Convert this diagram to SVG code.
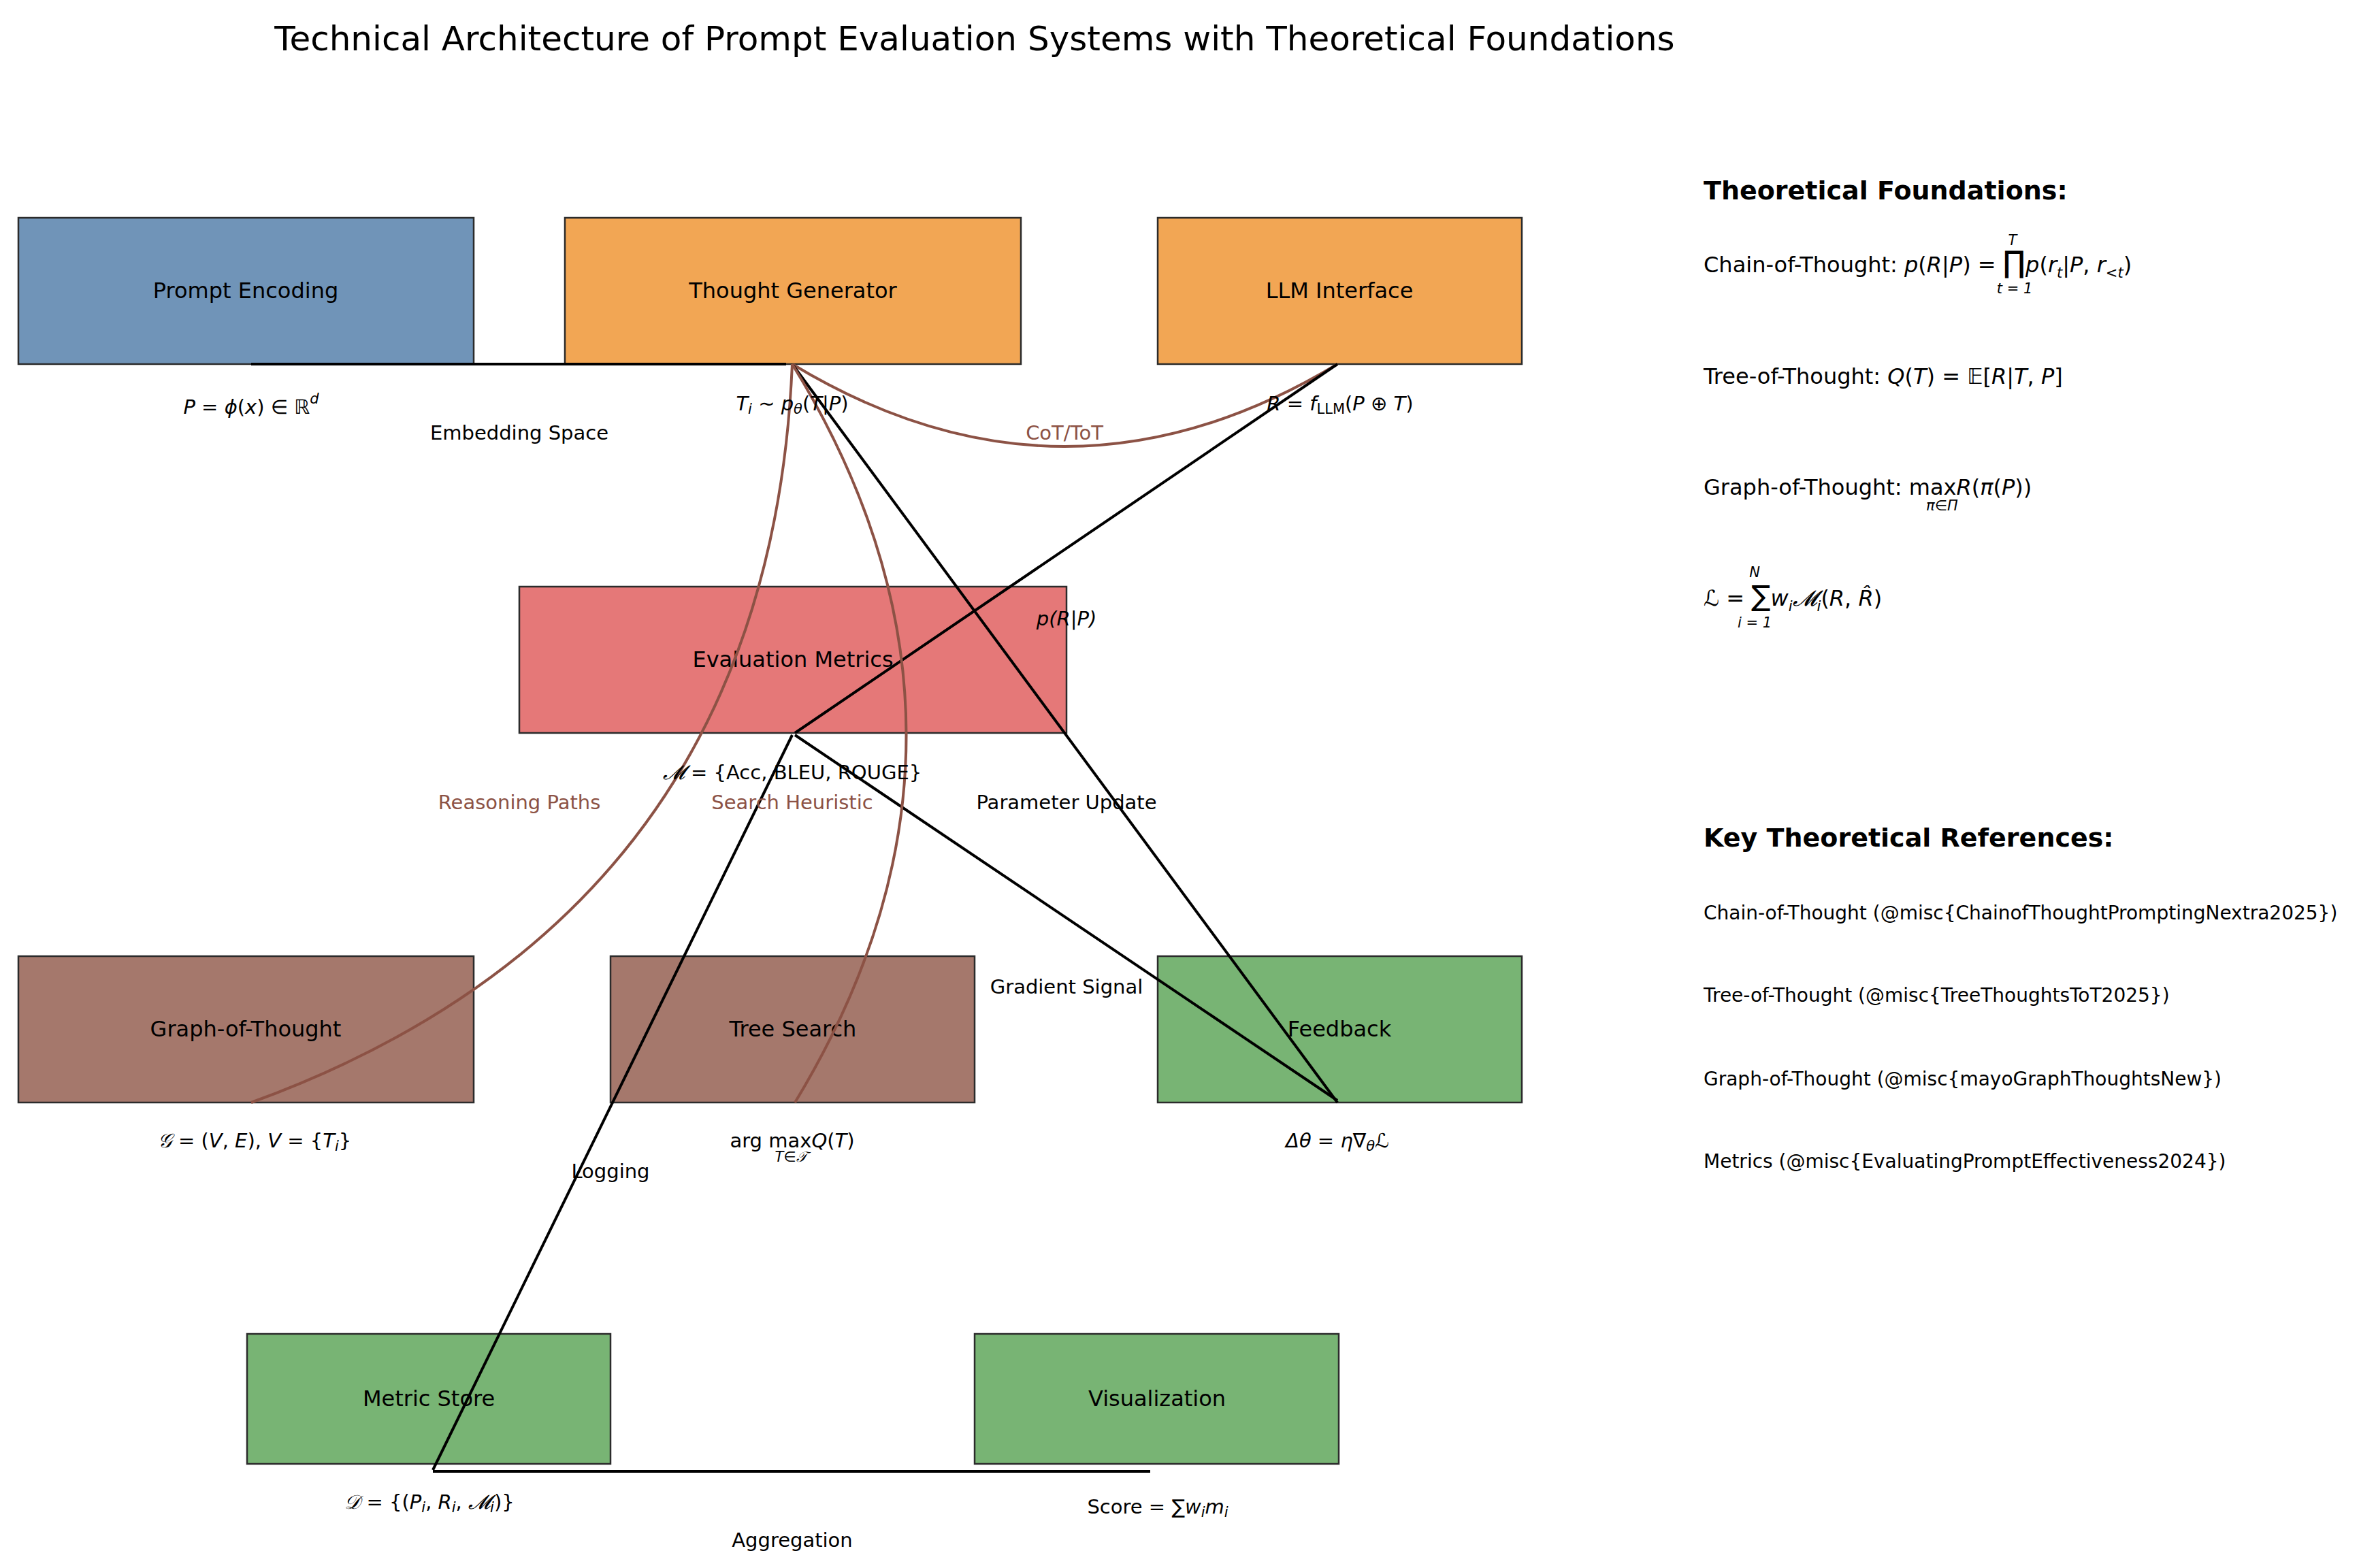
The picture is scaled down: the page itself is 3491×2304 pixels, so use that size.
<svg xmlns="http://www.w3.org/2000/svg" width="3491" height="2304" viewBox="0 0 3491 2304">
<style>
text{font-family:"DejaVu Sans","Liberation Sans",sans-serif;fill:#000}
.bx{stroke:#2b2b2b;stroke-width:2.5}
.nl{font-size:32px;text-anchor:middle;dominant-baseline:central}
.lb{font-size:29px;text-anchor:middle;dominant-baseline:central}
.br{fill:#8c5245}
.m{font-style:italic}
.sm{font-size:21px}
.e{stroke:#000;stroke-width:4;fill:none}
.c{stroke:#8c5245;stroke-width:4;fill:none}
.h{font-size:38px;font-weight:bold}
.f{font-size:32px}
.r{font-size:28px}
</style>
<rect width="3491" height="2304" fill="#fff"/>
<text x="1432" y="57" font-size="50" text-anchor="middle" dominant-baseline="central">Technical Architecture of Prompt Evaluation Systems with Theoretical Foundations</text>
<g id="n-prompt"><rect class="bx" x="27" y="320" width="669" height="215" fill="#7094b8"/><text class="nl" x="361" y="427">Prompt Encoding</text></g>
<g id="n-thought"><rect class="bx" x="830" y="320" width="670" height="215" fill="#f2a654"/><text class="nl" x="1165" y="427">Thought Generator</text></g>
<g id="n-llm"><rect class="bx" x="1701" y="320" width="535" height="215" fill="#f2a654"/><text class="nl" x="1968" y="427">LLM Interface</text></g>
<g id="n-eval"><rect class="bx" x="763" y="862" width="804" height="215" fill="#e57878"/><text class="nl" x="1165" y="969">Evaluation Metrics</text></g>
<g id="n-got"><rect class="bx" x="27" y="1405" width="669" height="215" fill="#a5786c"/><text class="nl" x="361" y="1512">Graph-of-Thought</text></g>
<g id="n-tree"><rect class="bx" x="897" y="1405" width="535" height="215" fill="#a5786c"/><text class="nl" x="1165" y="1512">Tree Search</text></g>
<g id="n-feedback"><rect class="bx" x="1701" y="1405" width="535" height="215" fill="#78b474"/><text class="nl" x="1968" y="1512">Feedback</text></g>
<g id="n-store"><rect class="bx" x="363" y="1960" width="534" height="191" fill="#78b474"/><text class="nl" x="630" y="2055">Metric Store</text></g>
<g id="n-vis"><rect class="bx" x="1432" y="1960" width="535" height="191" fill="#78b474"/><text class="nl" x="1700" y="2055">Visualization</text></g>
<g id="connectors">
<line class="e" x1="369" y1="535" x2="1155" y2="535" stroke-width="5"/>
<path class="c" d="M1164,535 Q1564,777 1965,535"/>
<line class="e" x1="1965" y1="535" x2="1168" y2="1077"/>
<line class="e" x1="1164" y1="535" x2="1965" y2="1620"/>
<line class="e" x1="1168" y1="1080" x2="1965" y2="1617"/>
<line class="e" x1="1164" y1="1080" x2="636" y2="2160"/>
<line class="e" x1="636" y1="2162" x2="1690" y2="2162" stroke-width="5"/>
<path class="c" d="M1164,535 Q1130,1343 369,1620"/>
<path class="c" d="M1164,535 Q1497,1077 1168,1620"/>
</g>
<g id="labels">
<text class="lb" x="369" y="598"><tspan class="m">P</tspan> = <tspan class="m">ϕ</tspan>(<tspan class="m">x</tspan>) ∈ ℝ<tspan class="m sm" dy="-12">d</tspan></text>
<text class="lb" x="763" y="636">Embedding Space</text>
<text class="lb" x="1164" y="593"><tspan class="m">T</tspan><tspan class="m sm" dy="8">i</tspan><tspan dy="-8"> ~ </tspan><tspan class="m">p</tspan><tspan class="m sm" dy="8">θ</tspan><tspan dy="-8">(</tspan><tspan class="m">T</tspan>|<tspan class="m">P</tspan>)</text>
<text class="lb br" x="1564" y="636">CoT/ToT</text>
<text class="lb" x="1969" y="593"><tspan class="m">R</tspan> = <tspan class="m">f</tspan><tspan class="sm" dy="8">LLM</tspan><tspan dy="-8">(</tspan><tspan class="m">P</tspan> ⊕ <tspan class="m">T</tspan>)</text>
<text class="lb m" x="1567" y="909">p(R|P)</text>
<text class="lb" x="1164" y="1135"><tspan class="m">𝓜</tspan> = {Acc, BLEU, ROUGE}</text>
<text class="lb br" x="763" y="1179">Reasoning Paths</text>
<text class="lb br" x="1164" y="1179">Search Heuristic</text>
<text class="lb" x="1567" y="1179">Parameter Update</text>
<text class="lb" x="1567" y="1450">Gradient Signal</text>
<text class="lb" x="374" y="1676"><tspan class="m">𝒢</tspan> = (<tspan class="m">V</tspan>, <tspan class="m">E</tspan>),  <tspan class="m">V</tspan> = {<tspan class="m">T</tspan><tspan class="m sm" dy="8">i</tspan><tspan dy="-8">}</tspan></text>
<text class="lb" x="1164" y="1676">arg max<tspan class="m">Q</tspan>(<tspan class="m">T</tspan>)</text>
<text class="lb m sm" x="1162" y="1700">T∈𝒯</text>
<text class="lb" x="1965" y="1676"><tspan class="m">Δθ</tspan> = <tspan class="m">η</tspan>∇<tspan class="m sm" dy="8">θ</tspan><tspan class="m" dy="-8">ℒ</tspan></text>
<text class="lb" x="897" y="1721">Logging</text>
<text class="lb" x="631" y="2207"><tspan class="m">𝒟</tspan> = {(<tspan class="m">P</tspan><tspan class="m sm" dy="8">i</tspan><tspan dy="-8">, </tspan><tspan class="m">R</tspan><tspan class="m sm" dy="8">i</tspan><tspan dy="-8">, </tspan><tspan class="m">𝓜</tspan><tspan class="m sm" dy="8">i</tspan><tspan dy="-8">)}</tspan></text>
<text class="lb" x="1701" y="2214">Score = ∑<tspan class="m">w</tspan><tspan class="m sm" dy="8">i</tspan><tspan class="m" dy="-8">m</tspan><tspan class="m sm" dy="8">i</tspan></text>
<text class="lb" x="1164" y="2263">Aggregation</text>
</g>
<g id="theory">
<text class="h" x="2503" y="293">Theoretical Foundations:</text>
<text class="f" x="2503" y="400">Chain-of-Thought: <tspan class="m">p</tspan>(<tspan class="m">R</tspan>|<tspan class="m">P</tspan>) = <tspan font-size="44">∏</tspan><tspan class="m">p</tspan>(<tspan class="m">r</tspan><tspan class="m sm" dy="8">t</tspan><tspan dy="-8">|</tspan><tspan class="m">P</tspan>, <tspan class="m">r</tspan><tspan class="m sm" dy="8">&lt;t</tspan><tspan dy="-8">)</tspan></text>
<text class="m sm" x="2957" y="360" text-anchor="middle">T</text>
<text class="m sm" x="2960" y="431" text-anchor="middle">t = 1</text>
<text class="f" x="2503" y="564">Tree-of-Thought: <tspan class="m">Q</tspan>(<tspan class="m">T</tspan>) = 𝔼[<tspan class="m">R</tspan>|<tspan class="m">T</tspan>, <tspan class="m">P</tspan>]</text>
<text class="f" x="2503" y="727">Graph-of-Thought: max<tspan class="m">R</tspan>(<tspan class="m">π</tspan>(<tspan class="m">P</tspan>))</text>
<text class="m sm" x="2830" y="750">π∈Π</text>
<text class="f" x="2503" y="890"><tspan class="m">ℒ</tspan> = <tspan font-size="42">∑</tspan><tspan class="m">w</tspan><tspan class="m sm" dy="8">i</tspan><tspan class="m" dy="-8">𝓜</tspan><tspan class="m sm" dy="8">i</tspan><tspan dy="-8">(</tspan><tspan class="m">R</tspan>, <tspan class="m">R̂</tspan>)</text>
<text class="m sm" x="2578" y="848" text-anchor="middle">N</text>
<text class="m sm" x="2578" y="922" text-anchor="middle">i = 1</text>
<text class="h" x="2503" y="1244">Key Theoretical References:</text>
<text class="r" x="2503" y="1351">Chain-of-Thought (@misc{ChainofThoughtPromptingNextra2025})</text>
<text class="r" x="2503" y="1472">Tree-of-Thought (@misc{TreeThoughtsToT2025})</text>
<text class="r" x="2503" y="1595">Graph-of-Thought (@misc{mayoGraphThoughtsNew})</text>
<text class="r" x="2503" y="1716">Metrics (@misc{EvaluatingPromptEffectiveness2024})</text>
</g>
</svg>
